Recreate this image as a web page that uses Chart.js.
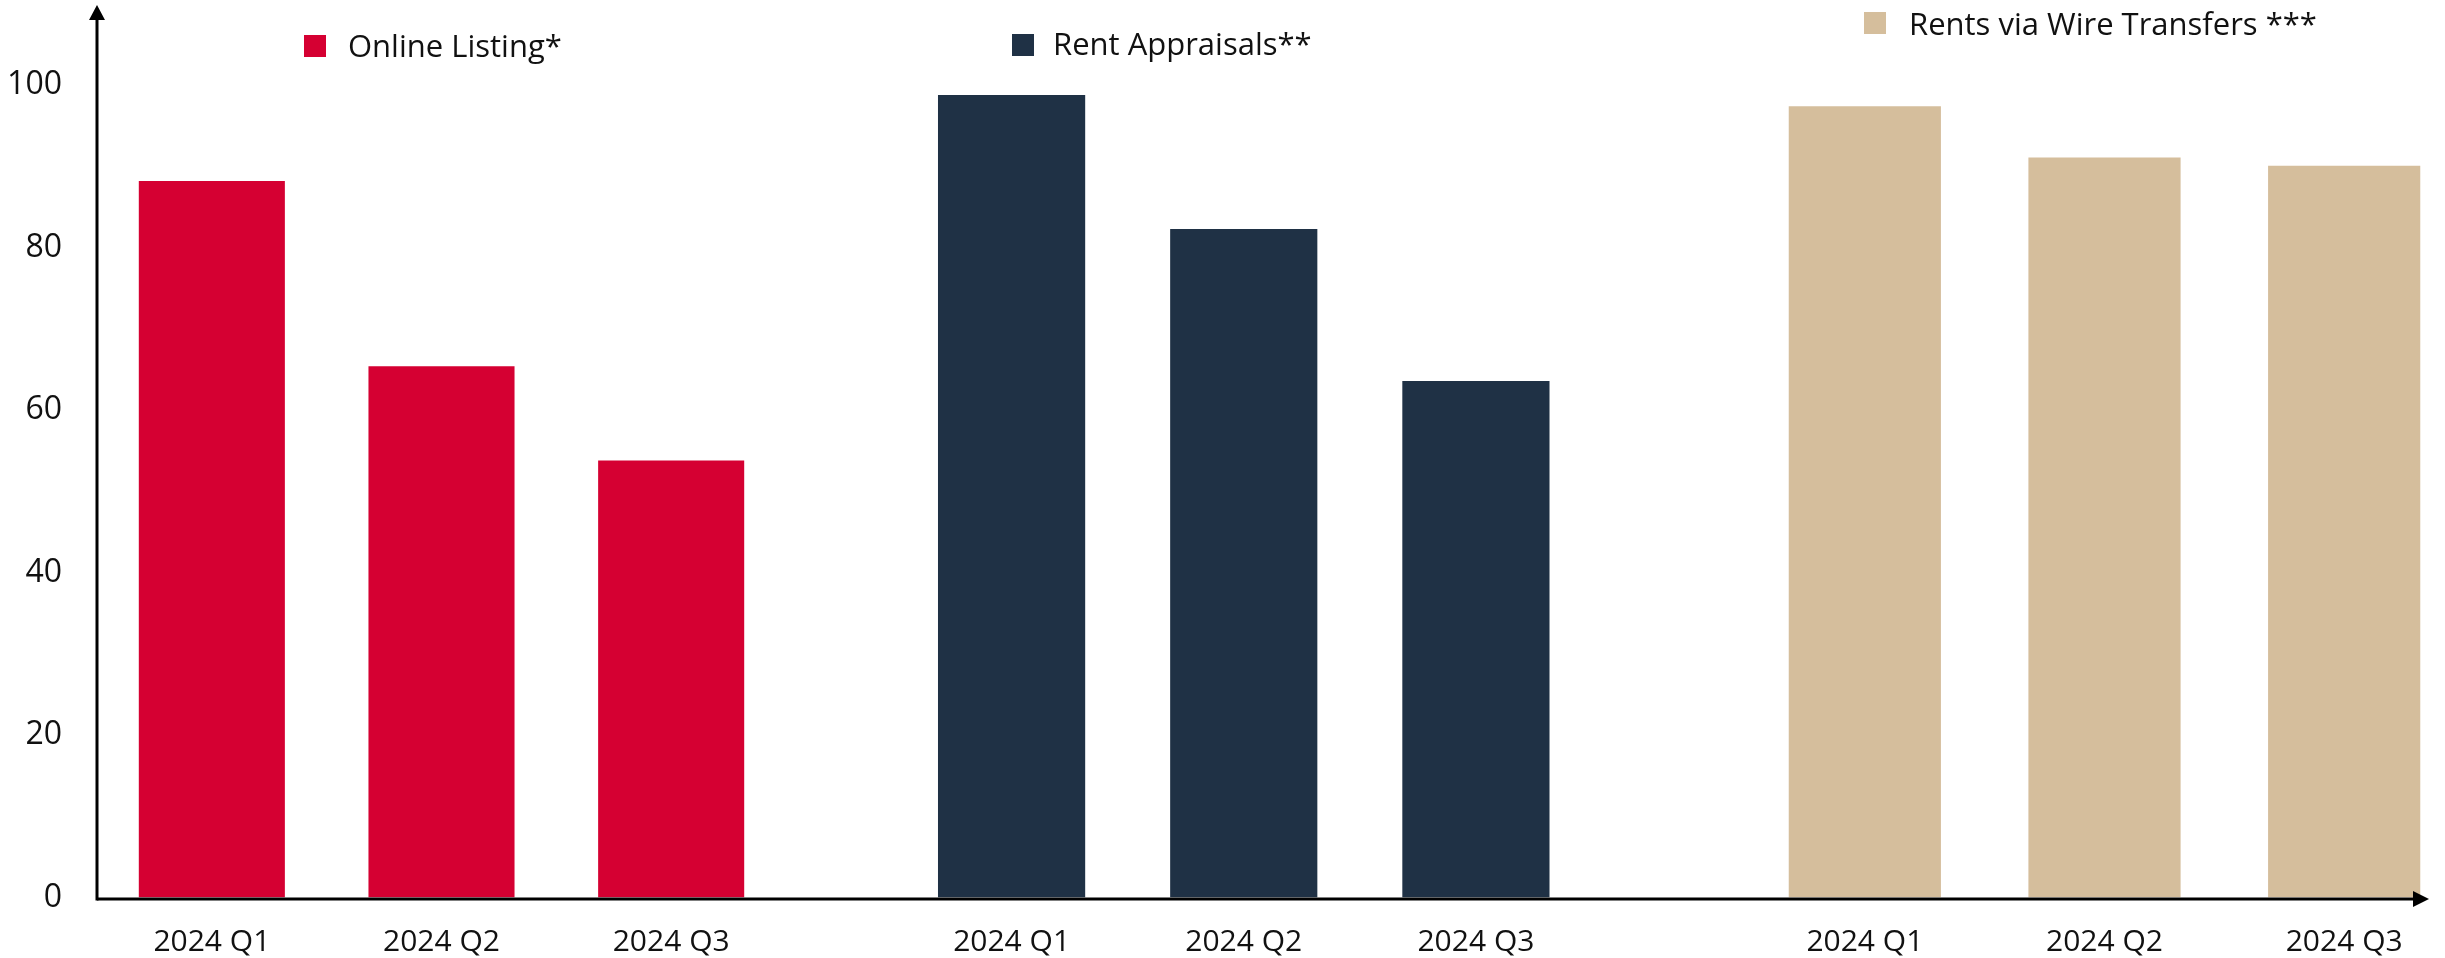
<!DOCTYPE html>
<html>
<head>
<meta charset="utf-8">
<script src="https://cdn.jsdelivr.net/npm/chart.js@4.4.1/dist/chart.umd.min.js"></script>
<style>
    html, body { margin: 0; padding: 0; background: #fff; overflow: hidden; }
    #wrap { position: relative; width: 2445px; height: 958px; overflow: hidden; font-family: 'Open Sans', sans-serif; }
    #wrap canvas { position: absolute; top: 0; }
    .legend-item { position: absolute; font-size: 31px; line-height: 31px; color: #111; white-space: nowrap; }
    .legend-box { position: absolute; width: 22px; height: 22px; }
</style>
</head>
<body>
<div id="wrap">
    <canvas id="onlineChart" width="786" height="958" style="left:0px"></canvas>
    <canvas id="appraisalChart" width="806" height="958" style="left:786px"></canvas>
    <canvas id="wireChart" width="872" height="958" style="left:1592px"></canvas>
</div>
<script>
// Data
const quarters = ['2024 Q1', '2024 Q2', '2024 Q3'];
const seriesNames = ['Online Listing*', 'Rent Appraisals**', 'Rents via Wire Transfers ***'];
const seriesColors = ['#D50032', '#1F3145', '#D5BE9C'];
const onlineListing = [88.2, 65.4, 53.8];
const rentAppraisals = [98.8, 82.3, 63.6];
const wireTransfers = [97.4, 91.1, 90.1];
const yTicks = [0, 20, 40, 60, 80, 100];

Chart.defaults.font.family = "'Open Sans', sans-serif";
Chart.defaults.color = '#111';

// Draws the black axis lines and arrow heads
const axisLines = {
    id: 'axisLines',
    afterDraw(chart, args, opts) {
        const { ctx, chartArea } = chart;
        const y0 = chart.scales.y.getPixelForValue(0);
        ctx.save();
        ctx.strokeStyle = '#000';
        ctx.fillStyle = '#000';
        ctx.lineWidth = 3;

        const xStart = opts.yAxis ? chartArea.left : 0;
        const xEnd = opts.arrowAt ? opts.arrowAt - 12 : chart.width;
        ctx.beginPath();
        ctx.moveTo(xStart, y0 + 1.5);
        ctx.lineTo(xEnd, y0 + 1.5);
        ctx.stroke();

        if (opts.arrowAt) {
            ctx.beginPath();
            ctx.moveTo(opts.arrowAt, y0 + 1.5);
            ctx.lineTo(opts.arrowAt - 16, y0 - 6.5);
            ctx.lineTo(opts.arrowAt - 16, y0 + 9.5);
            ctx.closePath();
            ctx.fill();
        }

        if (opts.yAxis) {
            const x = chartArea.left;
            ctx.beginPath();
            ctx.moveTo(x, y0 + 3);
            ctx.lineTo(x, 18);
            ctx.stroke();
            ctx.beginPath();
            ctx.moveTo(x, 5);
            ctx.lineTo(x - 8, 20);
            ctx.lineTo(x + 8, 20);
            ctx.closePath();
            ctx.fill();
        }
        ctx.restore();
    }
};

function makeChart(id, name, color, values, opts) {
    const ctx = document.getElementById(id).getContext('2d');
    return new Chart(ctx, {
        type: 'bar',
        data: {
            labels: quarters,
            datasets: [{
                label: name,
                backgroundColor: color,
                data: values,
                categoryPercentage: 1,
                barPercentage: opts.barPct
            }]
        },
        options: {
            responsive: false,
            animation: false,
            layout: { padding: { left: opts.padLeft, right: 0, top: 4, bottom: 0 } },
            plugins: {
                legend: { display: false },
                tooltip: { enabled: false },
                axisLines: { yAxis: opts.yAxis, arrowAt: opts.arrowAt }
            },
            scales: {
                x: {
                    grid: { display: false, drawTicks: false },
                    border: { display: false },
                    ticks: { font: { size: 30 }, padding: 27, autoSkip: false, maxRotation: 0 },
                    afterFit: s => { s.height = 60.5; s.paddingLeft = 0; s.paddingRight = 0; }
                },
                y: {
                    display: opts.yAxis,
                    min: 0,
                    max: 110,
                    grid: { display: false, drawTicks: false },
                    border: { display: false },
                    ticks: { font: { size: 32 }, padding: 35 },
                    afterBuildTicks: s => { s.ticks = yTicks.map(v => ({ value: v })); },
                    afterFit: s => {
                        s.width = s.options.display ? 97 : 0;
                        s.paddingTop = 0;
                        s.paddingBottom = 0;
                    }
                }
            }
        },
        plugins: [axisLines]
    });
}

const onlineChart = makeChart('onlineChart', seriesNames[0], seriesColors[0], onlineListing,
    { padLeft: 0, barPct: 0.636, yAxis: true });
const appraisalChart = makeChart('appraisalChart', seriesNames[1], seriesColors[1], rentAppraisals,
    { padLeft: 109.5, barPct: 0.634, yAxis: false });
const wireChart = makeChart('wireChart', seriesNames[2], seriesColors[2], wireTransfers,
    { padLeft: 153, barPct: 0.635, yAxis: false, arrowAt: 837 });

// Legend entries placed above each group
const legendSpots = [
    { box: [304, 35], text: [348, 30] },
    { box: [1012, 34], text: [1053, 28] },
    { box: [1864, 12], text: [1909, 8] }
];
const wrap = document.getElementById('wrap');
seriesNames.forEach((name, i) => {
    const spot = legendSpots[i];
    const box = document.createElement('div');
    box.className = 'legend-box';
    box.style.left = spot.box[0] + 'px';
    box.style.top = spot.box[1] + 'px';
    box.style.background = seriesColors[i];
    wrap.appendChild(box);

    const label = document.createElement('div');
    label.className = 'legend-item';
    label.style.left = spot.text[0] + 'px';
    label.style.top = spot.text[1] + 'px';
    label.textContent = name;
    wrap.appendChild(label);
});
</script>
</body>
</html>
